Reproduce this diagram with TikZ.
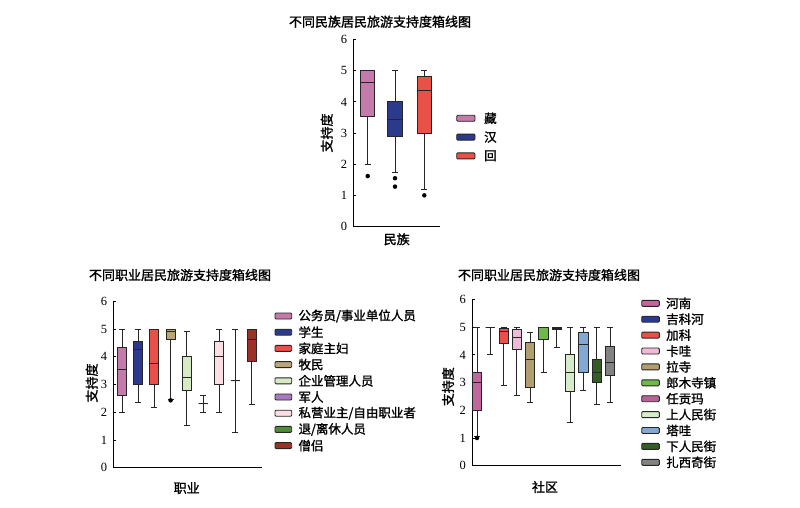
\documentclass[tikz,border=0pt]{standalone}
\usepackage{fontspec}
\setmainfont{Liberation Serif}
\newfontfamily\cjk[FakeBold=1.5]{Noto Sans CJK SC}

\definecolor{zang}{RGB}{196,122,170}
\definecolor{han}{RGB}{44,58,140}
\definecolor{hui}{RGB}{232,80,72}
\definecolor{mumin}{RGB}{185,165,120}
\definecolor{qiye}{RGB}{214,234,196}
\definecolor{junren}{RGB}{170,120,190}
\definecolor{siying}{RGB}{250,222,228}
\definecolor{tuixiu}{RGB}{80,140,60}
\definecolor{sengl}{RGB}{155,50,40}
\definecolor{henan}{RGB}{192,104,158}
\definecolor{kawa}{RGB}{240,185,215}
\definecolor{lasi}{RGB}{176,158,112}
\definecolor{langmu}{RGB}{112,184,72}
\definecolor{rengong}{RGB}{180,100,150}
\definecolor{shangrm}{RGB}{215,235,200}
\definecolor{tawa}{RGB}{130,168,212}
\definecolor{xiarm}{RGB}{52,92,38}
\definecolor{zhaxi}{RGB}{130,130,130}

\tikzset{
  axisln/.style={line width=0.9pt, black},
  whisk/.style={line width=0.9pt, black!85},
  boxbar/.style={draw=black!85, line width=0.9pt},
  outl/.style={circle, fill=black, inner sep=0pt, minimum size=4.5pt},
  ticklab/.style={font=\fontsize{12.5}{12.5}\selectfont, anchor=east, inner sep=0pt},
  ttl/.style={font=\cjk\fontsize{13}{13}\selectfont, inner sep=0pt},
  axlab/.style={font=\cjk\fontsize{13}{13}\selectfont, inner sep=0pt},
  legbox/.style={draw=black!85, line width=0.9pt, rounded corners=1pt},
  legtxt/.style={font=\cjk\fontsize{12.5}{12.5}\selectfont, anchor=west, inner sep=0pt}
}

\begin{document}
\begin{tikzpicture}[x=1pt,y=1pt]
  \useasboundingbox (0,0) rectangle (800,-508);

  % ethnic group
  \node[ttl] (ttlA) at (380,-21.7) {不同民族居民旅游支持度箱线图};
  \node[axlab,rotate=90] (ylabA) at (326.7,-133) {支持度};
  \node[axlab] (xlabA) at (396.7,-239.3) {民族};
  \begin{scope}[shift={(353.3pt,-226.5pt)}, y=31.15pt]
    \draw[axisln] (0,6) -- (0,0) -- (87,0);
    \foreach \v in {0,...,6} {
      \draw[axisln] (0,\v) -- (2.5,\v);
      \node[ticklab] (ta\v) at (-6,\v) {\v};
    }
    \def\hw{7.2}
    \foreach \x/\lo/\qa/\md/\qb/\hi/\c in {14.4/2.0/3.53/4.63/5.0/5.0/zang,
        41.7/1.72/2.9/3.45/4.0/5.0/han, 71/1.18/3.0/4.37/4.82/5.0/hui} {
      \draw[whisk] (\x,\lo) -- (\x,\qa) (\x,\qb) -- (\x,\hi)
        (\x-3,\lo) -- (\x+3,\lo) (\x-3,\hi) -- (\x+3,\hi);
      \draw[boxbar,fill=\c] (\x-\hw,\qa) rectangle (\x+\hw,\qb);
      \draw[boxbar] (\x-\hw,\md) -- (\x+\hw,\md);
    }
    \node[outl] (oa1) at (14.4,1.62) {};
    \node[outl] (oa2) at (41.7,1.55) {};
    \node[outl] (oa3) at (41.7,1.28) {};
    \node[outl] (oa4) at (71,1.0) {};
  \end{scope}
  \foreach \n/\c [count=\i] in {藏/zang, 汉/han, 回/hui} {
    \draw[legbox,fill=\c] (456.7,-118.3-18.8*\i+18.8+3) rectangle (475,-118.3-18.8*\i+18.8-3);
    \node[legtxt] (lga\i) at (484,-118.3-18.8*\i+18.8) {\n};
  }

  % occupation
  \node[ttl] (ttlB) at (180,-275) {不同职业居民旅游支持度箱线图};
  \node[axlab,rotate=90] (ylabB) at (91.7,-383) {支持度};
  \node[axlab] (xlabB) at (186.7,-488) {职业};
  \begin{scope}[shift={(113.3pt,-467.75pt)}, y=27.75pt]
    \draw[axisln] (0,6) -- (0,0) -- (148.7,0);
    \foreach \v in {0,...,6} {
      \draw[axisln] (0,\v) -- (2.5,\v);
      \node[ticklab] (tb\v) at (-6,\v) {\v};
    }
    \def\hw{4.5}
    \foreach \x/\lo/\qa/\md/\qb/\hi/\c in {8.7/2.0/2.62/3.55/4.35/5.0/zang,
        24.9/2.35/3.0/4.28/4.55/5.0/han, 41.1/2.17/3.0/3.77/4.97/5.0/hui,
        57.3/2.45/4.62/4.9/5.0/5.0/mumin, 73.5/1.53/2.8/3.27/4.0/4.9/qiye,
        89.7/2.0/2.3/2.3/2.3/2.62/junren, 105.9/2.0/3.0/4.0/4.55/5.0/siying,
        122.1/1.27/3.13/3.13/3.13/5.0/tuixiu, 138.3/2.28/3.82/4.63/5.0/5.0/sengl} {
      \draw[whisk] (\x,\lo) -- (\x,\qa) (\x,\qb) -- (\x,\hi)
        (\x-3,\lo) -- (\x+3,\lo) (\x-3,\hi) -- (\x+3,\hi);
      \draw[boxbar,fill=\c] (\x-\hw,\qa) rectangle (\x+\hw,\qb);
      \draw[boxbar] (\x-\hw,\md) -- (\x+\hw,\md);
    }
    \node[outl] (ob1) at (57.3,2.43) {};
  \end{scope}
  \foreach \n/\c [count=\i] in {{公务员/事业单位人员}/zang, 学生/han, 家庭主妇/hui,
      牧民/mumin, 企业管理人员/qiye, 军人/junren, {私营业主/自由职业者}/siying,
      {退/离休人员}/tuixiu, 僧侣/sengl} {
    \draw[legbox,fill=\c] (275,-316-16.2*\i+16.2+3) rectangle (291.7,-316-16.2*\i+16.2-3);
    \node[legtxt] (lgb\i) at (298.3,-316-16.2*\i+16.2) {\n};
  }

  % community
  \node[ttl] (ttlC) at (549,-275) {不同职业居民旅游支持度箱线图};
  \node[axlab,rotate=90] (ylabC) at (448,-386.7) {支持度};
  \node[axlab] (xlabC) at (545,-487) {社区};
  \begin{scope}[shift={(472pt,-465.7pt)}, y=27.7pt]
    \draw[axisln] (0,6) -- (0,0) -- (149,0);
    \foreach \v in {0,...,6} {
      \draw[axisln] (0,\v) -- (2.5,\v);
      \node[ticklab] (tc\v) at (-6,\v) {\v};
    }
    \def\hw{4.6}
    \foreach \x/\lo/\qa/\md/\qb/\hi/\c in {5/1.07/2.0/3.02/3.38/5.0/henan,
        18.3/4.0/5.0/5.0/5.0/5.0/han, 31.6/2.9/4.42/4.83/4.95/5.0/hui,
        44.9/2.55/4.18/4.62/4.93/5.0/kawa, 58.2/2.27/2.82/3.82/4.45/4.8/lasi,
        71.5/3.37/4.55/5.0/5.0/5.0/langmu, 84.8/4.28/4.92/4.95/5.0/5.0/rengong,
        98.1/1.55/2.67/3.35/4.0/5.0/shangrm, 111.4/2.72/3.35/4.38/4.82/5.0/tawa,
        124.7/2.2/3.0/3.37/3.82/5.0/xiarm, 138/2.28/3.25/3.72/4.32/5.0/zhaxi} {
      \draw[whisk] (\x,\lo) -- (\x,\qa) (\x,\qb) -- (\x,\hi)
        (\x-3,\lo) -- (\x+3,\lo) (\x-3,\hi) -- (\x+3,\hi);
      \draw[boxbar,fill=\c] (\x-\hw,\qa) rectangle (\x+\hw,\qb);
      \draw[boxbar] (\x-\hw,\md) -- (\x+\hw,\md);
    }
    \node[outl] (oc1) at (5,1.0) {};
  \end{scope}
  \foreach \n/\c [count=\i] in {河南/henan, 吉科河/han, 加科/hui, 卡哇/kawa,
      拉寺/lasi, 郎木寺镇/langmu, 任贡玛/rengong, 上人民街/shangrm,
      塔哇/tawa, 下人民街/xiarm, 扎西奇街/zhaxi} {
    \draw[legbox,fill=\c] (641.7,-303.3-15.9*\i+15.9+3) rectangle (659.3,-303.3-15.9*\i+15.9-3);
    \node[legtxt] (lgc\i) at (666,-303.3-15.9*\i+15.9) {\n};
  }
\end{tikzpicture}
\end{document}
